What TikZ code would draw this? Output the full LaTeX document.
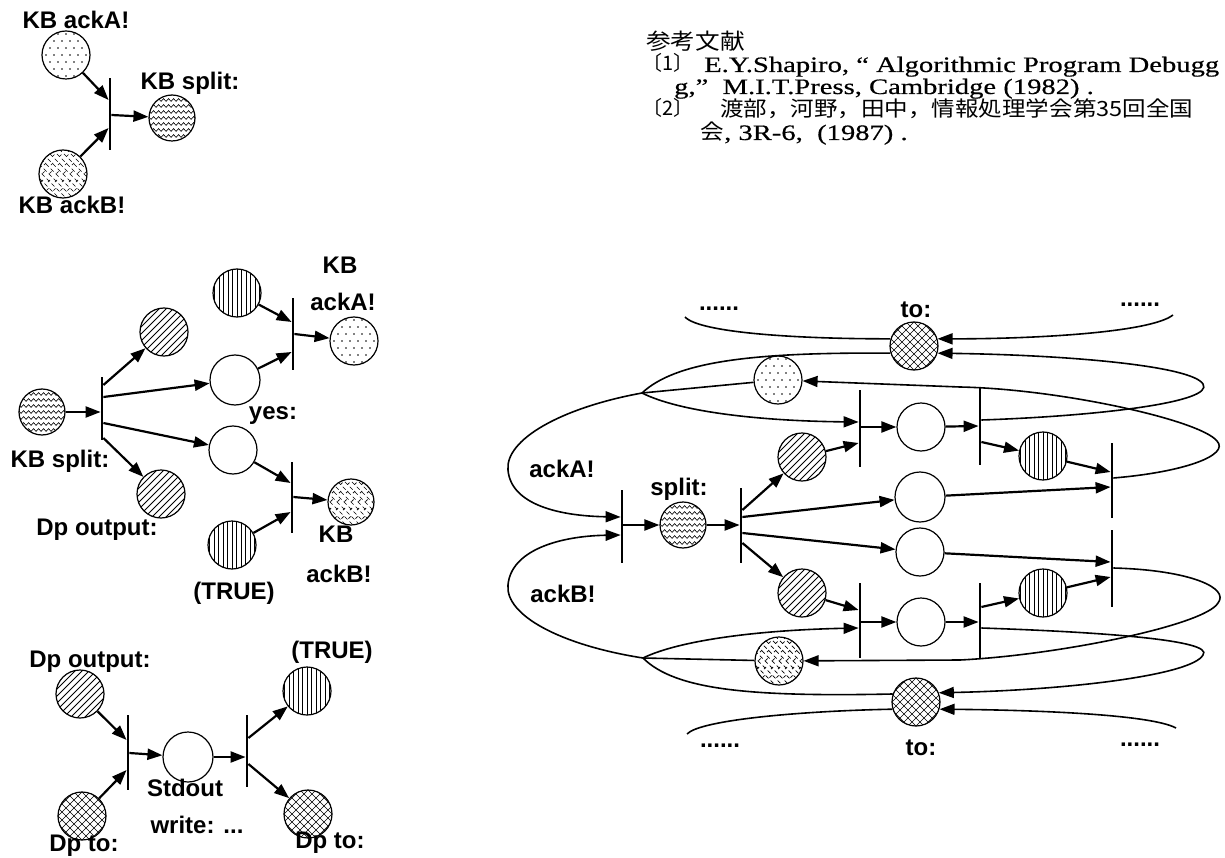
\documentclass[tikz,border=0pt]{standalone}
\usepackage{fontspec}
\setmainfont{Liberation Sans}
\newfontfamily\refserif[FakeStretch=1.3,FakeBold=0.5]{Liberation Serif}
\newfontfamily\cjk{Noto Sans CJK JP}
\newfontfamily\cjkw[FakeStretch=1.12]{Noto Sans CJK JP}
\usetikzlibrary{arrows.meta,calc,decorations.pathmorphing}
\tikzset{
  pl/.style={circle, draw, line width=1.2pt, minimum size=48pt, inner sep=0pt, fill=white},
  pdots/.style={pl, path picture={\begin{scope}[shift={(path picture bounding box.center)}]
      \foreach \j in {-21,-7,7,21}{
        \draw[line width=1.9pt, line cap=round, dash pattern=on 0pt off 8pt] (-32,\j) -- (32,\j);}
      \foreach \j in {-14,0,14}{
        \draw[line width=1.9pt, line cap=round, dash pattern=on 0pt off 8pt] (-28,\j) -- (32,\j);}
    \end{scope}}},
  pwave/.style={pl, path picture={\begin{scope}[shift={(path picture bounding box.center)}]
      \foreach \j in {-24,-18,...,24}{
        \draw[line width=0.6pt, decorate, decoration={snake, segment length=5pt, amplitude=1.4pt}] (-30,\j) -- (30,\j);}
    \end{scope}}},
  pdash/.style={pl, path picture={\begin{scope}[shift={(path picture bounding box.center)}]
      \foreach \k in {-56,-49,...,56}{
        \draw[line width=0.7pt, dash pattern=on 4pt off 3pt] (\k-30,-30) -- (\k+30,30);
        \draw[line width=0.7pt, dash pattern=on 3pt off 9pt, dash phase=5pt] (\k-30,30) -- (\k+30,-30);}
    \end{scope}}},
  phatch/.style={pl, path picture={\begin{scope}[shift={(path picture bounding box.center)}]
      \foreach \k in {-56,-49,...,56}{
        \draw[line width=0.8pt] (\k-30,30) -- (\k+30,-30);}
    \end{scope}}},
  pvert/.style={pl, path picture={\begin{scope}[shift={(path picture bounding box.center)}]
      \foreach \k in {-22.5,-18,...,22.5}{
        \draw[line width=0.7pt] (\k,-30) -- (\k,30);}
    \end{scope}}},
  pcross/.style={pl, path picture={\begin{scope}[shift={(path picture bounding box.center)}]
      \foreach \k in {-56,-48,...,56}{
        \draw[line width=0.6pt] (\k-30,30) -- (\k+30,-30);
        \draw[line width=0.6pt] (\k-30,-30) -- (\k+30,30);}
    \end{scope}}},
  tbar/.style={rectangle, fill=black, minimum width=2.4pt, inner sep=0pt},
  arr/.style={line width=2.2pt, -{Triangle[length=15pt,width=11pt]}},
  crv/.style={line width=1.6pt},
  carr/.style={-{Triangle[length=15pt,width=11pt]}},
  lbl/.style={font=\fontsize{24}{26}\selectfont\bfseries, inner sep=0pt, anchor=base},
  rtxt/.style={font=\refserif\fontsize{22}{24}\selectfont, inner sep=0pt, anchor=base west},
}
\begin{document}
\begin{tikzpicture}[x=1pt,y=-1pt]
\useasboundingbox (0,0) rectangle (1225,858);
\clip (0,0) rectangle (1225,858);
\fill[white] (0,0) rectangle (1225,858);

% ---------------- top-left ----------------
\node[pdots] (a0) at (66,55) {};
\node[pdash] (b0) at (63,174) {};
\node[tbar, minimum height=72pt] (t0) at (110,114) {};
\node[pwave, minimum size=46pt] (s0) at (172,118) {};
\draw[arr] (a0) -- ($(t0.west)+(0,-14)$);
\draw[arr] (b0) -- ($(t0.west)+(0,14)$);
\draw[arr] ($(t0.east)+(0,1)$) -- (s0);
\node[lbl] at (76,29) {KB ackA!};
\node[lbl] at (190,90) {KB split:};
\node[lbl] at (72,214) {KB ackB!};

% ---------------- middle-left ----------------
\node[pwave, minimum size=46pt] (s1) at (42,412) {};
\node[tbar, minimum height=63pt] (t1) at (102,408) {};
\node[phatch] (h1) at (164,332) {};
\node[pl, minimum size=50pt] (w1) at (235,380) {};
\node[pl] (w2) at (233,450) {};
\node[phatch] (h2) at (161,494) {};
\draw[arr] (s1) -- ($(t1.west)+(0,4)$);
\draw[arr] ($(t1.east)+(0,-23)$) -- (h1);
\draw[arr] ($(t1.east)+(0,-11)$) -- (w1);
\draw[arr] ($(t1.east)+(0,15)$) -- (w2);
\draw[arr] ($(t1.east)+(0,30)$) -- (h2);
\node[pvert] (v1) at (237,293) {};
\node[tbar, minimum height=72pt] (t2) at (293,334) {};
\node[pdots] (a1) at (354,341) {};
\draw[arr] (v1) -- ($(t2.west)+(0,-12)$);
\draw[arr] (w1) -- ($(t2.west)+(0,18)$);
\draw[arr] (t2.east) -- (a1);
\node[pvert] (v2) at (232,545) {};
\node[tbar, minimum height=71pt] (t3) at (292,497) {};
\node[pdash, minimum size=46pt] (b1) at (351,502) {};
\draw[arr] (w2) -- ($(t3.west)+(0,-14)$);
\draw[arr] (v2) -- ($(t3.west)+(0,15)$);
\draw[arr] (t3.east) -- (b1);
\node[lbl] at (340,274) {KB};
\node[lbl] at (343,310) {ackA!};
\node[lbl] at (273,419) {yes:};
\node[lbl] at (60,467) {KB split:};
\node[lbl] at (97,535) {Dp output:};
\node[lbl] at (234,599) {(TRUE)};
\node[lbl] at (336,542) {KB};
\node[lbl] at (339,582) {ackB!};

% ---------------- bottom-left ----------------
\node[phatch] (h3) at (80,694) {};
\node[pcross] (c1) at (82,816) {};
\node[tbar, minimum height=75pt] (t4) at (128,752) {};
\node[pl, minimum size=50pt] (w3) at (188,757) {};
\node[tbar, minimum height=72pt] (t5) at (247,751) {};
\node[pvert] (v3) at (307,691) {};
\node[pcross] (c2) at (308,814) {};
\draw[arr] (h3) -- ($(t4.west)+(0,-12)$);
\draw[arr] (c1) -- ($(t4.west)+(0,18)$);
\draw[arr] ($(t4.east)+(0,1)$) -- (w3);
\draw[arr] (w3) -- ($(t5.west)+(0,6)$);
\draw[arr] ($(t5.east)+(0,-13)$) -- (v3);
\draw[arr] ($(t5.east)+(0,13)$) -- (c2);
\node[lbl] at (90,667) {Dp output:};
\node[lbl] at (84,851) {Dp to:};
\node[lbl] at (185,796) {Stdout};
\node[lbl] at (197,833) {write: ...};
\node[lbl] at (332,658) {(TRUE)};
\node[lbl] at (330,848) {Dp to:};

% ---------------- references ----------------
\node[rtxt, font=\cjkw\fontsize{22}{24}\selectfont] at (646,50) {参考文献};
\node[rtxt, font=\cjk\fontsize{20}{22}\selectfont] at (642,71) {〔1〕};
\node[rtxt] at (704,72) {E.Y.Shapiro, “ Algorithmic Program Debugg};
\node[rtxt] at (674,94) {g,”\ \ M.I.T.Press, Cambridge (1982) .};
\node[rtxt, font=\cjk\fontsize{20}{22}\selectfont] at (642,116) {〔2〕};
\node[rtxt, font=\cjkw\fontsize{21}{23}\selectfont] at (720,117) {渡部，河野，田中，情報処理学会第35回全国};
\node[rtxt, font=\cjkw\fontsize{21}{23}\selectfont] at (700,140) {会};
\node[rtxt] at (724,140) {, 3R-6,\ \ (1987) .};

% ---------------- right diagram ----------------
\node[pcross] (to1) at (914,346) {};
\node[pcross] (to2) at (916,702) {};
\node[pdots] (ra) at (778,380) {};
\node[pdash] (rb) at (779,661) {};
\node[tbar, minimum height=73pt] (r0) at (622,526) {};
\node[pwave, minimum size=46pt] (rs) at (683,525) {};
\node[tbar, minimum height=75pt] (r1) at (741,525) {};
\node[phatch] (rh1) at (802,457) {};
\node[phatch] (rh2) at (802,593) {};
\node[tbar, minimum height=77pt] (r2) at (860,428) {};
\node[tbar, minimum height=75pt] (r3) at (860,620) {};
\node[pl] (rwu) at (921,427) {};
\node[pl] (rwl) at (921,622) {};
\node[pl, minimum size=50pt] (rwm1) at (920,497) {};
\node[pl] (rwm2) at (920,552) {};
\node[tbar, minimum height=77pt] (r4) at (980,426) {};
\node[tbar, minimum height=75pt] (r5) at (980,620) {};
\node[pvert] (rv1) at (1043,456) {};
\node[pvert] (rv2) at (1043,593) {};
\node[tbar, minimum height=75pt] (r6) at (1112,480) {};
\node[tbar, minimum height=77pt] (r7) at (1112,568) {};
\coordinate (tipA) at (642,393);
\coordinate (tipB) at (643,658);
\coordinate (eTL) at (685,317);
\coordinate (eTR) at (1173,315);
\coordinate (eBL) at (687,734);
\coordinate (eBR) at (1176,728);

\draw[arr] ($(r0.east)+(0,-1)$) -- (rs);
\draw[arr] (rs) -- (r1.west);
\draw[arr] ($(r1.east)+(0,-15)$) -- (rh1);
\draw[arr] ($(r1.east)+(0,-8)$) -- (rwm1);
\draw[arr] ($(r1.east)+(0,8)$) -- (rwm2);
\draw[arr] ($(r1.east)+(0,18)$) -- (rh2);
\draw[arr] (rh1) -- ($(r2.west)+(0,15)$);
\draw[arr] ($(r2.east)+(0,-1)$) -- (rwu);
\draw[arr] (rwu) -- (r4.west);
\draw[arr] ($(r4.east)+(0,16)$) -- (rv1);
\draw[arr] (rv1) -- ($(r6.west)+(0,-8)$);
\draw[arr] (rwm1) -- ($(r6.west)+(0,7)$);
\draw[arr] (rh2) -- ($(r3.west)+(0,-10)$);
\draw[arr] ($(r3.east)+(0,2)$) -- (rwl);
\draw[arr] (rwl) -- ($(r5.west)+(0,2)$);
\draw[arr] ($(r5.east)+(0,-13)$) -- (rv2);
\draw[arr] (rv2) -- ($(r7.west)+(0,9)$);
\draw[arr] (rwm2) -- ($(r7.west)+(0,-6)$);

% top arcs
\draw[crv] (eTL) .. controls (700,333) and (800,339) .. (to1.163);
\draw[crv, carr] (eTR) .. controls (1150,333) and (1030,339) .. (to1.17);
\draw[crv, carr] ($(r4.east)+(0,-6)$) .. controls (1100,416) and (1215,402) .. (1203,384) .. controls (1192,366) and (1070,355) .. (to1.-17);
\draw[crv, carr] ($(r6.east)+(0,-2)$) .. controls (1185,472) and (1230,455) .. (1217,441) .. controls (1200,420) and (1060,389) .. (960,387) -- (ra);
\draw[crv] (ra) -- (tipA);
\draw[crv] (tipA) .. controls (675,362) and (750,352) .. (to1.197);
\draw[crv, carr] (tipA) .. controls (680,412) and (760,421) .. ($(r2.west)+(0,-6)$);
\draw[crv, carr] (tipA) .. controls (560,408) and (505,440) .. (508,470) .. controls (511,505) and (560,516) .. ($(r0.west)+(0,-9)$);

% bottom arcs
\draw[crv] (rb) -- (tipB);
\draw[crv, carr] (tipB) .. controls (680,640) and (760,630) .. ($(r3.west)+(0,8)$);
\draw[crv] (tipB) .. controls (675,690) and (750,697) .. (to2.161);
\draw[crv, carr] (tipB) .. controls (560,645) and (505,615) .. (508,585) .. controls (511,550) and (560,536) .. ($(r0.west)+(0,9)$);
\draw[crv, carr] (r7.east) .. controls (1190,570) and (1230,588) .. (1218,603) .. controls (1205,625) and (1060,655) .. (960,660) -- (rb);
\draw[crv, carr] ($(r5.east)+(0,8)$) .. controls (1100,632) and (1215,640) .. (1203,655) .. controls (1192,675) and (1070,690) .. (to2.22);
\draw[crv] (eBL) .. controls (700,720) and (800,711) .. (to2.197);
\draw[crv, carr] (eBR) .. controls (1150,714) and (1030,710) .. (to2.-17);

\node[lbl] at (916,317) {to:};
\node[lbl] at (719,310) {......};
\node[lbl] at (1140,307) {......};
\node[lbl] at (562,477) {ackA!};
\node[lbl] at (679,495) {split:};
\node[lbl] at (563,602) {ackB!};
\node[lbl] at (921,755) {to:};
\node[lbl] at (720,747) {......};
\node[lbl] at (1140,746) {......};
\end{tikzpicture}
\end{document}
